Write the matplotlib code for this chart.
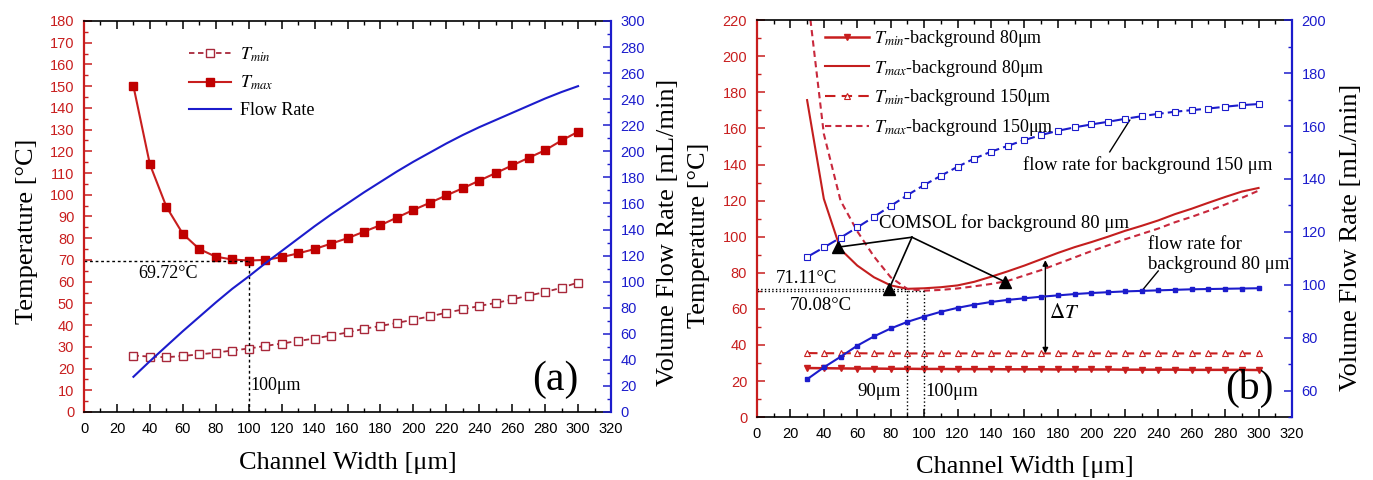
import matplotlib.pyplot as plt
from matplotlib.ticker import MultipleLocator

plt.rcParams['font.family'] = ['Liberation Serif', 'DejaVu Serif']
plt.rcParams['mathtext.fontset'] = 'stix'

# channel width [um], same for every series
width = list(range(30, 301, 10))

# (a) temperatures [C] and flow rate [mL/min]
tmin_a = [26.0, 25.5, 25.2, 25.8, 26.5, 27.3, 28.3, 29.2, 30.4, 31.5, 32.7, 33.8, 35.2, 36.6,
          38.3, 39.6, 41.0, 42.5, 44.0, 45.7, 47.2, 48.8, 50.2, 51.8, 53.6, 55.2, 57.2, 59.6]
tmax_a = [150.0, 114.0, 94.5, 82.0, 75.0, 71.5, 70.2, 69.72, 70.0, 71.3, 73.0, 75.0, 77.5, 80.0,
          83.0, 86.0, 89.5, 93.0, 96.3, 99.7, 103.0, 106.5, 110.0, 113.5, 117.0, 120.5, 125.0, 129.0]
flow_a = [27, 39, 50.5, 62, 73, 84, 94.5, 104, 114, 123.5, 133, 142.5, 151.5, 160,
          168.5, 176.5, 184.5, 192, 199, 206, 212.5, 218.5, 224, 229.5, 235, 240.5, 245.5, 250]

# (b) background 80 um / 150 um
tmin_80 = [27.2, 27.1, 27.0, 26.9, 26.9, 26.8, 26.8, 26.7, 26.7, 26.6, 26.6, 26.6, 26.5, 26.5,
           26.5, 26.4, 26.4, 26.4, 26.4, 26.3, 26.3, 26.3, 26.3, 26.2, 26.2, 26.2, 26.2, 26.1]
tmax_80 = [175.7, 121.0, 93.0, 84.0, 77.5, 73.0, 71.11, 71.4, 72.0, 73.0, 75.0, 77.8, 80.8, 84.0,
           87.5, 91.0, 94.2, 97.0, 100.0, 103.2, 106.0, 109.0, 112.5, 115.5, 118.8, 122.0, 125.0, 127.0]
tmin_150 = [35.5, 35.4, 35.4, 35.4, 35.3, 35.3, 35.3, 35.3, 35.3, 35.3, 35.3, 35.3, 35.3, 35.3,
            35.3, 35.3, 35.3, 35.3, 35.3, 35.3, 35.3, 35.3, 35.3, 35.3, 35.3, 35.3, 35.3, 35.3]
tmax_150 = [236.0, 157.0, 120.0, 103.0, 89.0, 77.5, 71.0, 70.08, 70.5, 71.3, 72.5, 73.8, 75.5, 78.5,
            81.5, 85.0, 88.5, 92.0, 95.2, 98.5, 101.5, 104.5, 108.0, 111.0, 114.3, 117.8, 121.5, 125.5]
flow_80 = [64.3, 68.8, 72.8, 77.0, 80.5, 83.5, 86.0, 88.0, 89.8, 91.3, 92.5, 93.5, 94.3, 94.9,
           95.5, 96.0, 96.5, 96.9, 97.2, 97.5, 97.7, 97.9, 98.1, 98.3, 98.4, 98.5, 98.6, 98.7]
flow_150 = [110.5, 114.1, 117.8, 121.7, 125.7, 129.8, 133.9, 137.7, 141.2, 144.6, 147.7, 150.3, 152.5, 154.7,
            156.6, 158.2, 159.5, 160.6, 161.6, 162.7, 163.7, 164.6, 165.4, 166.0, 166.6, 167.3, 167.9, 168.3]

RED = '#c81e1e'
DRED = '#a8283a'
BLUE = '#1c1ccc'

fig = plt.figure(figsize=(13.73, 4.8), dpi=100)
ax1 = fig.add_axes([0.0612, 0.1417, 0.3838, 0.8146])
ax2 = ax1.twinx()
ax3 = fig.add_axes([0.5513, 0.131, 0.3897, 0.827])
ax4 = ax3.twinx()


def style(ax, axr, ymaj, ymin, rmaj, rmin):
    ax.set_xlim(0, 320)
    ax.xaxis.set_major_locator(MultipleLocator(20))
    ax.xaxis.set_minor_locator(MultipleLocator(10))
    ax.yaxis.set_major_locator(MultipleLocator(ymaj))
    ax.yaxis.set_minor_locator(MultipleLocator(ymin))
    axr.yaxis.set_major_locator(MultipleLocator(rmaj))
    axr.yaxis.set_minor_locator(MultipleLocator(rmin))
    ax.tick_params(which='both', direction='in', top=True, right=False, pad=7, labelsize=10.5)
    ax.tick_params(which='major', length=5.5, width=1.1)
    ax.tick_params(which='minor', length=3, width=1.0)
    ax.tick_params(axis='y', which='both', colors=RED)
    axr.tick_params(which='both', direction='in', colors=BLUE, pad=7, labelsize=10.5)
    axr.tick_params(which='major', length=5.5, width=1.1)
    axr.tick_params(which='minor', length=3, width=1.0)
    ax.spines['right'].set_visible(False)
    axr.spines['left'].set_visible(False)
    ax.spines['left'].set_color(RED)
    ax.spines['left'].set_linewidth(1.6)
    axr.spines['right'].set_color(BLUE)
    axr.spines['right'].set_linewidth(1.6)
    for s in ['top', 'bottom']:
        ax.spines[s].set_linewidth(1.2)
        axr.spines[s].set_visible(False)
    for lab in ax.get_xticklabels() + ax.get_yticklabels() + axr.get_yticklabels():
        lab.set_family('Liberation Sans')


# ---------- (a) ----------
ax1.set_ylim(0, 180)
ax2.set_ylim(0, 300)
l1, = ax1.plot(width, tmin_a, '--', color=DRED, lw=1.3, dashes=(3, 2), marker='s', ms=6,
               mfc='white', mec=DRED, mew=1.0, label=r'$T_{min}$')
l2, = ax1.plot(width, tmax_a, '-', color=RED, lw=1.5, marker='s', ms=6, mfc='#c00000',
               mec='#c00000', label=r'$T_{max}$')
l3, = ax2.plot(width, flow_a, '-', color=BLUE, lw=1.5, label='Flow Rate')
ax1.plot([0, 100], [69.72, 69.72], color='k', ls='--', dashes=(2, 2), lw=1.0)
ax1.plot([100, 100], [0, 69.72], color='k', ls='--', dashes=(2, 2), lw=1.0)
ax1.text(33, 63.8, '69.72°C', fontsize=13, va='center')
ax1.text(101, 12.4, '100μm', fontsize=13, va='center')
ax1.text(272, 14.7, '(a)', fontsize=30, va='center')
ax1.legend(handles=[l1, l2, l3], loc='upper left', bbox_to_anchor=(0.2, 0.937), frameon=False,
           fontsize=13, handlelength=2.3, handletextpad=0.5, labelspacing=0.55,
           borderpad=0, borderaxespad=0)
style(ax1, ax2, 10, 5, 20, 10)
ax1.set_xlabel('Channel Width [μm]', fontsize=19, va='center')
ax1.xaxis.set_label_coords(0.5, -0.13)
ax1.set_ylabel('Temperature [°C]', fontsize=19, va='center')
ax1.yaxis.set_label_coords(-0.108, 0.463)
ax2.set_ylabel('Volume Flow Rate [mL/min]', fontsize=19, va='center', rotation=90)
ax2.yaxis.set_label_coords(1.108, 0.46)

# ---------- (b) ----------
ax3.set_ylim(0, 220)
ax4.set_ylim(50, 200)
m1, = ax3.plot(width, tmin_80, '-', color=RED, lw=1.8, marker='v', ms=4.5, mfc=RED, mec=RED,
               label=r'$T_{min}$-background 80μm')
m2, = ax3.plot(width, tmax_80, '-', color='#c41e1e', lw=1.5, label=r'$T_{max}$-background 80μm')
m3, = ax3.plot(width, tmin_150, '--', color=RED, lw=1.5, dashes=(5, 3), marker='^', ms=4.5,
               mfc='white', mec=RED, mew=0.8, label=r'$T_{min}$-background 150μm')
m4, = ax3.plot(width, tmax_150, '--', color='#c8283c', lw=1.5, dashes=(3, 2),
               label=r'$T_{max}$-background 150μm')
ax4.plot(width, flow_80, '-', color=BLUE, lw=1.5, marker='s', ms=3.5, mfc=BLUE, mec=BLUE)
ax4.plot(width, flow_150, '--', color=BLUE, lw=1.5, dashes=(7, 2), marker='s', ms=4,
         mfc='white', mec=BLUE, mew=0.8)
ax3.plot([0, 90], [71.11, 71.11], 'k:', lw=1.0)
ax3.plot([0, 100], [70.08, 70.08], 'k:', lw=1.0)
ax3.plot([90, 90], [0, 71.11], 'k:', lw=1.0)
ax3.plot([100, 100], [0, 70.08], 'k:', lw=1.0)
ax3.text(11, 77, '71.11°C', fontsize=13.5, va='center')
ax3.text(19.7, 62, '70.08°C', fontsize=13.5, va='center')
ax3.text(86, 14, '90μm', fontsize=13.5, va='center', ha='right')
ax3.text(101, 14, '100μm', fontsize=13.5, va='center')
ax3.text(280, 16, '(b)', fontsize=30, va='center')

# COMSOL pointers
src = (92.7, 99.7)
for tip in [(48.4, 94.2), (79.0, 71.0), (148.3, 75.0)]:
    ax3.plot([src[0], tip[0]], [src[1], tip[1]], color='k', lw=1.2)
    ax3.plot(tip[0], tip[1], marker='^', ms=9, color='k')
ax3.text(73, 107.7, 'COMSOL for background 80 μm', fontsize=13.5, va='center')
ax3.text(159, 139.6, 'flow rate for background 150 μm', fontsize=13.5, va='center')
ax3.plot([211, 223], [147, 164.6], color='k', lw=1.0)
ax3.text(233.6, 90, 'flow rate for\nbackground 80 μm', fontsize=13.5, va='center',
         linespacing=1.25)
ax3.plot([240, 229.7], [81, 69.4], color='k', lw=1.0)
ax3.annotate('', xy=(172.5, 35.3), xytext=(172.5, 87),
             arrowprops=dict(arrowstyle='<|-|>', color='k', lw=1.0,
                             mutation_scale=8, shrinkA=0, shrinkB=0))
ax3.text(174.6, 57.4, r'$\Delta T$', fontsize=15, va='center')

ax3.legend(handles=[m1, m2, m3, m4], loc='upper left', bbox_to_anchor=(0.128, 0.98),
           frameon=False, fontsize=13, handlelength=2.4, handletextpad=0.3,
           labelspacing=0.48, borderpad=0, borderaxespad=0)
style(ax3, ax4, 20, 10, 20, 10)
ax3.set_xlabel('Channel Width [μm]', fontsize=19, va='center')
ax3.xaxis.set_label_coords(0.5, -0.126)
ax3.set_ylabel('Temperature [°C]', fontsize=19, va='center')
ax3.yaxis.set_label_coords(-0.108, 0.458)
ax4.set_ylabel('Volume Flow Rate [mL/min]', fontsize=19, va='center', rotation=90)
ax4.yaxis.set_label_coords(1.11, 0.453)

fig.savefig('out.png', dpi=100)
